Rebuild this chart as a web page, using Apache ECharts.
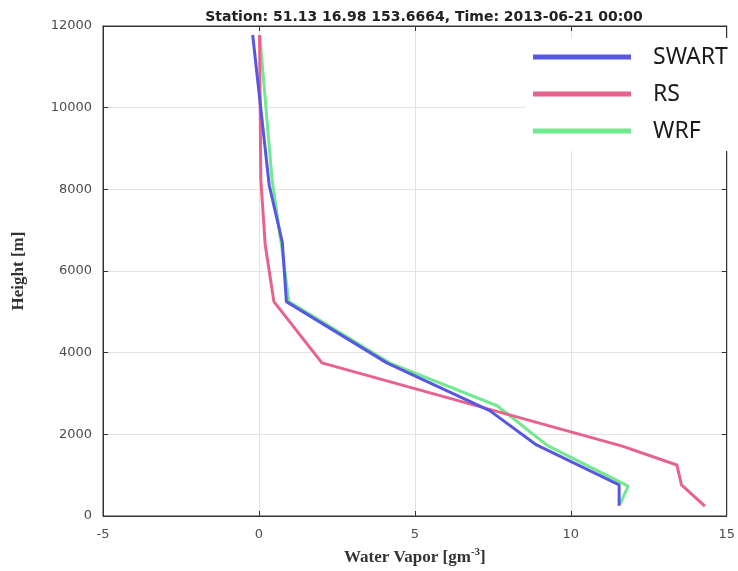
<!DOCTYPE html>
<html>
<head>
<meta charset="utf-8">
<script src="https://cdn.jsdelivr.net/npm/echarts@6/dist/echarts.min.js"></script>
<style>html,body{margin:0;padding:0;background:#fff}#c{width:738px;height:571px}</style>
</head>
<body>
<div id="c"></div>
<script>
// Water vapor [g m^-3] vs height [m]
const swartX = [-0.2, 0.33, 0.75, 0.88, 4.1, 7.4, 8.9, 11.55, 11.55];
const swartH = [11780, 8100, 6700, 5250, 3750, 2580, 1740, 760, 250];
const rsX = [0.02, 0.06, 0.2, 0.48, 2.02, 11.65, 13.4, 13.55, 14.3];
const rsH = [11780, 8250, 6650, 5250, 3750, 1710, 1250, 760, 240];
const wrfX = [0.03, 0.42, 0.73, 0.96, 4.24, 7.64, 9.24, 11.84, 11.58];
const wrfH = [11750, 8250, 6600, 5250, 3730, 2700, 1730, 730, 290];
const xTicks = [-5, 0, 5, 10, 15];
const yTicks = [0, 2000, 4000, 6000, 8000, 10000, 12000];
const seriesNames = ['SWART', 'RS', 'WRF'];
const titleText = 'Station: 51.13 16.98 153.6664, Time: 2013-06-21 00:00';

const pairs = (xs, hs) => xs.map((x, i) => [x, hs[i]]);
const chart = echarts.init(document.getElementById('c'));
const axisCommon = {
  axisLine: { show: true, onZero: false, lineStyle: { color: '#333', width: 1 } },
  axisTick: { show: true, inside: true, length: 5, lineStyle: { color: '#333' } },
  splitLine: { show: true, lineStyle: { color: '#e3e3e3', width: 1 } },
  axisLabel: { fontFamily: 'DejaVu Sans', fontSize: 13, color: '#4d4d4d', formatter: v => String(v) }
};
const mirror = {
  axisLine: { show: true, onZero: false, lineStyle: { color: '#333', width: 1 } },
  axisTick: { show: true, inside: true, length: 5, lineStyle: { color: '#333' } },
  splitLine: { show: false }, axisLabel: { show: false }
};
const nameStyle = { fontFamily: 'Liberation Serif', fontSize: 17, fontWeight: 'bold', color: '#333' };
const mk = (name, xs, hs, color) => ({
  name, type: 'line', data: pairs(xs, hs), showSymbol: false, symbol: 'none',
  lineStyle: { color, width: 3 }, itemStyle: { color }, animation: false
});
const xMin = xTicks[0], xMax = xTicks[xTicks.length - 1];
const yMin = yTicks[0], yMax = yTicks[yTicks.length - 1];
chart.setOption({
  animation: false,
  title: {
    text: titleText, left: 419, top: 5, textAlign: 'center',
    textStyle: { fontFamily: 'DejaVu Sans', fontSize: 14, fontWeight: 'bold', color: '#222' }
  },
  grid: { left: 103, right: 7, top: 26, bottom: 53, show: true, borderColor: '#333', borderWidth: 1, backgroundColor: '#fff' },
  xAxis: [Object.assign({}, axisCommon, {
    type: 'value', min: xMin, max: xMax, interval: 5,
    axisLabel: Object.assign({}, axisCommon.axisLabel, { margin: 12 }),
    name: 'Water Vapor [gm{sup|-3}]', nameLocation: 'middle', nameGap: 31,
    nameTextStyle: Object.assign({}, nameStyle, { rich: { sup: Object.assign({}, nameStyle, { fontSize: 11, padding: [0, 0, 10, 0] }) } })
  }), Object.assign({}, mirror, { type: 'value', position: 'top', min: xMin, max: xMax, interval: 5 })],
  yAxis: [Object.assign({}, axisCommon, {
    type: 'value', min: yMin, max: yMax, interval: 2000,
    axisLabel: Object.assign({}, axisCommon.axisLabel, { margin: 11 }),
    name: 'Height [m]', nameLocation: 'middle', nameGap: 76, nameTextStyle: nameStyle
  }), Object.assign({}, mirror, { type: 'value', position: 'right', min: yMin, max: yMax, interval: 2000 })],
  legend: {
    data: seriesNames, orient: 'vertical', left: 526, top: 38,
    backgroundColor: '#fff', padding: [7, 12, 8, 7], itemGap: 13,
    itemWidth: 98, itemHeight: 5, icon: 'rect',
    textStyle: { fontFamily: 'Noto Sans', fontSize: 23, color: '#1a1a1a', padding: [0, 0, 0, 17], lineHeight: 24 }
  },
  series: [
    mk('WRF', wrfX, wrfH, '#72e890'),
    mk('RS', rsX, rsH, '#e8628c'),
    mk('SWART', swartX, swartH, '#5757e0')
  ]
});
</script>
</body>
</html>
